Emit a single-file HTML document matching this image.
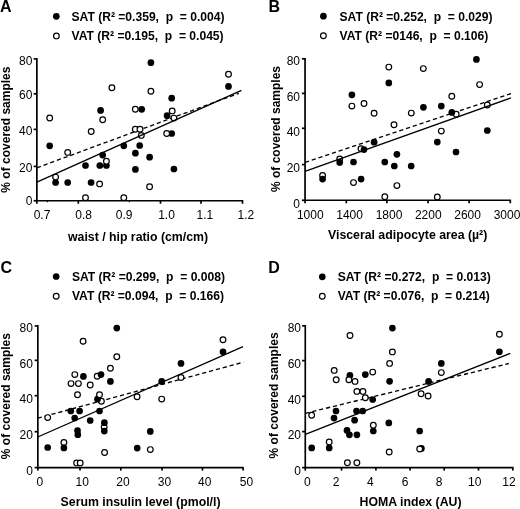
<!DOCTYPE html>
<html><head><meta charset="utf-8"><title>Figure</title>
<style>
html,body{margin:0;padding:0;background:#fff;}
body{width:520px;height:509px;overflow:hidden;}
svg{display:block;filter:grayscale(1);}
text{font-family:"Liberation Sans", sans-serif;fill:#000;}
.b12{font-size:12.1px;font-weight:bold;white-space:pre;}
.n12{font-size:12px;}
.lab{font-size:16px;font-weight:bold;}
.tt{font-size:12.3px;font-weight:bold;}
.yt{font-size:12px;font-weight:bold;}
</style></head><body>
<svg width="520" height="509" viewBox="0 0 520 509">
<rect width="520" height="509" fill="#fff"/>
<g id="pA">
<line x1="36.9" y1="167.8" x2="238.8" y2="93.3" stroke="#000" stroke-width="1.35" stroke-dasharray="4.2 2.9"/>
<line x1="36.86" y1="58.1" x2="36.86" y2="201.55" stroke="#000" stroke-width="1.7"/>
<line x1="36" y1="200.74" x2="243.2" y2="200.74" stroke="#000" stroke-width="1.7"/>
<line x1="33.66" y1="58.9" x2="36.86" y2="58.9" stroke="#000" stroke-width="1.7"/>
<line x1="33.66" y1="93.8" x2="36.86" y2="93.8" stroke="#000" stroke-width="1.7"/>
<line x1="33.66" y1="129.4" x2="36.86" y2="129.4" stroke="#000" stroke-width="1.7"/>
<line x1="33.66" y1="166.4" x2="36.86" y2="166.4" stroke="#000" stroke-width="1.7"/>
<line x1="33.66" y1="200.74" x2="36.86" y2="200.74" stroke="#000" stroke-width="1.7"/>
<line x1="36.86" y1="200.74" x2="36.86" y2="203.74" stroke="#000" stroke-width="1.7"/>
<line x1="78.3" y1="200.74" x2="78.3" y2="203.74" stroke="#000" stroke-width="1.7"/>
<line x1="160.5" y1="200.74" x2="160.5" y2="203.74" stroke="#000" stroke-width="1.7"/>
<line x1="201" y1="200.74" x2="201" y2="203.74" stroke="#000" stroke-width="1.7"/>
<line x1="242.5" y1="200.74" x2="242.5" y2="203.74" stroke="#000" stroke-width="1.7"/>
<line x1="47.3" y1="200.74" x2="47.3" y2="202.34" stroke="#000" stroke-width="1.1"/>
<line x1="129.3" y1="200.74" x2="129.3" y2="202.34" stroke="#000" stroke-width="1.1"/>
<circle cx="150.9" cy="62.7" r="3.35" fill="#000"/>
<circle cx="228.5" cy="86.4" r="3.35" fill="#000"/>
<circle cx="171.7" cy="98.2" r="3.35" fill="#000"/>
<circle cx="100.6" cy="110.4" r="3.35" fill="#000"/>
<circle cx="141.7" cy="109.3" r="3.35" fill="#000"/>
<circle cx="167.1" cy="115.7" r="3.35" fill="#000"/>
<circle cx="49.7" cy="145.8" r="3.35" fill="#000"/>
<circle cx="123.8" cy="145.8" r="3.35" fill="#000"/>
<circle cx="139.7" cy="145.5" r="3.35" fill="#000"/>
<circle cx="102.7" cy="155.1" r="3.35" fill="#000"/>
<circle cx="135.4" cy="153.2" r="3.35" fill="#000"/>
<circle cx="149.6" cy="157.2" r="3.35" fill="#000"/>
<circle cx="85.5" cy="165.5" r="3.35" fill="#000"/>
<circle cx="99.8" cy="165.5" r="3.35" fill="#000"/>
<circle cx="106.4" cy="165.5" r="3.35" fill="#000"/>
<circle cx="135.4" cy="169.4" r="3.35" fill="#000"/>
<circle cx="173.9" cy="169" r="3.35" fill="#000"/>
<circle cx="55.6" cy="182.5" r="3.35" fill="#000"/>
<circle cx="67.7" cy="182.5" r="3.35" fill="#000"/>
<circle cx="91.1" cy="182.5" r="3.35" fill="#000"/>
<circle cx="171.7" cy="133.5" r="3.35" fill="#000"/>
<circle cx="49.7" cy="118" r="2.85" fill="#fff" stroke="#000" stroke-width="1.2"/>
<circle cx="111.9" cy="87.7" r="2.85" fill="#fff" stroke="#000" stroke-width="1.2"/>
<circle cx="102.7" cy="119.7" r="2.85" fill="#fff" stroke="#000" stroke-width="1.2"/>
<circle cx="135.3" cy="109.3" r="2.85" fill="#fff" stroke="#000" stroke-width="1.2"/>
<circle cx="150.9" cy="91.2" r="2.85" fill="#fff" stroke="#000" stroke-width="1.2"/>
<circle cx="228.5" cy="74.3" r="2.85" fill="#fff" stroke="#000" stroke-width="1.2"/>
<circle cx="172.2" cy="110.9" r="2.85" fill="#fff" stroke="#000" stroke-width="1.2"/>
<circle cx="173.9" cy="118.1" r="2.85" fill="#fff" stroke="#000" stroke-width="1.2"/>
<circle cx="91.2" cy="131.5" r="2.85" fill="#fff" stroke="#000" stroke-width="1.2"/>
<circle cx="135.3" cy="129.2" r="2.85" fill="#fff" stroke="#000" stroke-width="1.2"/>
<circle cx="140" cy="129.2" r="2.85" fill="#fff" stroke="#000" stroke-width="1.2"/>
<circle cx="141.3" cy="135.4" r="2.85" fill="#fff" stroke="#000" stroke-width="1.2"/>
<circle cx="166.7" cy="133.5" r="2.85" fill="#fff" stroke="#000" stroke-width="1.2"/>
<circle cx="67.7" cy="152.4" r="2.85" fill="#fff" stroke="#000" stroke-width="1.2"/>
<circle cx="106.4" cy="161.2" r="2.85" fill="#fff" stroke="#000" stroke-width="1.2"/>
<circle cx="55.6" cy="177.1" r="2.85" fill="#fff" stroke="#000" stroke-width="1.2"/>
<circle cx="99.6" cy="183.9" r="2.85" fill="#fff" stroke="#000" stroke-width="1.2"/>
<circle cx="85.5" cy="197.7" r="2.85" fill="#fff" stroke="#000" stroke-width="1.2"/>
<circle cx="123.8" cy="197.7" r="2.85" fill="#fff" stroke="#000" stroke-width="1.2"/>
<circle cx="149.6" cy="186.8" r="2.85" fill="#fff" stroke="#000" stroke-width="1.2"/>
<line x1="36.9" y1="182.2" x2="241.4" y2="90.4" stroke="#000" stroke-width="1.35"/>
<circle cx="56.3" cy="16.3" r="3.35" fill="#000"/>
<circle cx="56.4" cy="35.9" r="2.85" fill="#fff" stroke="#000" stroke-width="1.2"/>
<text x="71.5" y="20.9" class="b12">SAT (R² =0.359,  p  = 0.004)</text>
<text x="71.5" y="40.3" class="b12">VAT (R² =0.195,  p  = 0.045)</text>
<text x="0" y="11.6" class="lab">A</text>
<text x="32.4" y="64.8" class="n12" text-anchor="end">80</text>
<text x="32.4" y="98.9" class="n12" text-anchor="end">60</text>
<text x="32.4" y="134.8" class="n12" text-anchor="end">40</text>
<text x="32.4" y="171.9" class="n12" text-anchor="end">20</text>
<text x="32.4" y="205.05" class="n12" text-anchor="end">0</text>
<text x="42" y="218.6" class="n12" text-anchor="middle">0.7</text>
<text x="83.6" y="218.6" class="n12" text-anchor="middle">0.8</text>
<text x="124.2" y="218.6" class="n12" text-anchor="middle">0.9</text>
<text x="166.5" y="218.6" class="n12" text-anchor="middle">1.0</text>
<text x="204.9" y="218.6" class="n12" text-anchor="middle">1.1</text>
<text x="245.8" y="218.6" class="n12" text-anchor="middle">1.2</text>
<text x="68" y="240.6" class="tt">waist / hip ratio (cm/cm)</text>
<text transform="translate(9.9,129.6) rotate(-90)" x="0" y="0" class="yt" text-anchor="middle">% of covered samples</text>
</g>
<g id="pB">
<line x1="305" y1="162.4" x2="511.4" y2="93.4" stroke="#000" stroke-width="1.35" stroke-dasharray="4.2 2.9"/>
<line x1="305.05" y1="57.9" x2="305.05" y2="201.1" stroke="#000" stroke-width="1.7"/>
<line x1="304.2" y1="200.27" x2="511" y2="200.27" stroke="#000" stroke-width="1.7"/>
<line x1="301.85" y1="58.8" x2="305.05" y2="58.8" stroke="#000" stroke-width="1.7"/>
<line x1="301.85" y1="93.4" x2="305.05" y2="93.4" stroke="#000" stroke-width="1.7"/>
<line x1="301.85" y1="128.3" x2="305.05" y2="128.3" stroke="#000" stroke-width="1.7"/>
<line x1="301.85" y1="164.6" x2="305.05" y2="164.6" stroke="#000" stroke-width="1.7"/>
<line x1="301.85" y1="200.27" x2="305.05" y2="200.27" stroke="#000" stroke-width="1.7"/>
<line x1="305.05" y1="200.27" x2="305.05" y2="203.27" stroke="#000" stroke-width="1.7"/>
<line x1="346.3" y1="200.27" x2="346.3" y2="203.27" stroke="#000" stroke-width="1.7"/>
<line x1="386.9" y1="200.27" x2="386.9" y2="203.27" stroke="#000" stroke-width="1.7"/>
<line x1="428.1" y1="200.27" x2="428.1" y2="203.27" stroke="#000" stroke-width="1.7"/>
<line x1="469.1" y1="200.27" x2="469.1" y2="203.27" stroke="#000" stroke-width="1.7"/>
<line x1="510.3" y1="200.27" x2="510.3" y2="203.27" stroke="#000" stroke-width="1.7"/>
<circle cx="388.8" cy="67.1" r="2.85" fill="#fff" stroke="#000" stroke-width="1.2"/>
<circle cx="351.9" cy="106.1" r="2.85" fill="#fff" stroke="#000" stroke-width="1.2"/>
<circle cx="364" cy="103.5" r="2.85" fill="#fff" stroke="#000" stroke-width="1.2"/>
<circle cx="374.1" cy="113.2" r="2.85" fill="#fff" stroke="#000" stroke-width="1.2"/>
<circle cx="394" cy="124.7" r="2.85" fill="#fff" stroke="#000" stroke-width="1.2"/>
<circle cx="423.3" cy="68.6" r="2.85" fill="#fff" stroke="#000" stroke-width="1.2"/>
<circle cx="479.6" cy="84.6" r="2.85" fill="#fff" stroke="#000" stroke-width="1.2"/>
<circle cx="451.8" cy="96.2" r="2.85" fill="#fff" stroke="#000" stroke-width="1.2"/>
<circle cx="456.2" cy="114.2" r="2.85" fill="#fff" stroke="#000" stroke-width="1.2"/>
<circle cx="411.3" cy="113.1" r="2.85" fill="#fff" stroke="#000" stroke-width="1.2"/>
<circle cx="487.3" cy="105" r="2.85" fill="#fff" stroke="#000" stroke-width="1.2"/>
<circle cx="441.3" cy="131.1" r="2.85" fill="#fff" stroke="#000" stroke-width="1.2"/>
<circle cx="437.3" cy="196.9" r="2.85" fill="#fff" stroke="#000" stroke-width="1.2"/>
<circle cx="361" cy="148.8" r="2.85" fill="#fff" stroke="#000" stroke-width="1.2"/>
<circle cx="339.7" cy="158.9" r="2.85" fill="#fff" stroke="#000" stroke-width="1.2"/>
<circle cx="322.6" cy="175.5" r="2.85" fill="#fff" stroke="#000" stroke-width="1.2"/>
<circle cx="353.5" cy="182.6" r="2.85" fill="#fff" stroke="#000" stroke-width="1.2"/>
<circle cx="396.9" cy="185.6" r="2.85" fill="#fff" stroke="#000" stroke-width="1.2"/>
<circle cx="384.8" cy="196.7" r="2.85" fill="#fff" stroke="#000" stroke-width="1.2"/>
<line x1="305" y1="171.4" x2="511" y2="97.9" stroke="#000" stroke-width="1.35"/>
<circle cx="388.8" cy="82.9" r="3.35" fill="#000"/>
<circle cx="351.9" cy="94.8" r="3.35" fill="#000"/>
<circle cx="476.4" cy="59.4" r="3.35" fill="#000"/>
<circle cx="423.4" cy="107.3" r="3.35" fill="#000"/>
<circle cx="441.3" cy="106.1" r="3.35" fill="#000"/>
<circle cx="451.8" cy="112.4" r="3.35" fill="#000"/>
<circle cx="487.3" cy="130.5" r="3.35" fill="#000"/>
<circle cx="437.3" cy="142.1" r="3.35" fill="#000"/>
<circle cx="456" cy="152" r="3.35" fill="#000"/>
<circle cx="411.2" cy="166" r="3.35" fill="#000"/>
<circle cx="374.1" cy="142.2" r="3.35" fill="#000"/>
<circle cx="364" cy="149.6" r="3.35" fill="#000"/>
<circle cx="339.7" cy="162.4" r="3.35" fill="#000"/>
<circle cx="353.5" cy="162" r="3.35" fill="#000"/>
<circle cx="384.8" cy="162" r="3.35" fill="#000"/>
<circle cx="396.9" cy="154.3" r="3.35" fill="#000"/>
<circle cx="394.3" cy="166" r="3.35" fill="#000"/>
<circle cx="322.6" cy="179.1" r="3.35" fill="#000"/>
<circle cx="361.1" cy="179.1" r="3.35" fill="#000"/>
<circle cx="323.4" cy="16.2" r="3.35" fill="#000"/>
<circle cx="323.4" cy="35.8" r="2.85" fill="#fff" stroke="#000" stroke-width="1.2"/>
<text x="339.5" y="20.7" class="b12">SAT (R² =0.252,  p  = 0.029)</text>
<text x="339.5" y="40.3" class="b12">VAT (R² =0146,  p  = 0.106)</text>
<text x="268.5" y="12.4" class="lab">B</text>
<text x="300" y="64.8" class="n12" text-anchor="end">80</text>
<text x="300" y="100.9" class="n12" text-anchor="end">60</text>
<text x="300" y="136.2" class="n12" text-anchor="end">40</text>
<text x="300" y="171.9" class="n12" text-anchor="end">20</text>
<text x="300" y="207.75" class="n12" text-anchor="end">0</text>
<text x="310.3" y="219.4" class="n12" text-anchor="middle">1000</text>
<text x="349.6" y="219.4" class="n12" text-anchor="middle">1400</text>
<text x="389" y="219.4" class="n12" text-anchor="middle">1800</text>
<text x="428.3" y="219.4" class="n12" text-anchor="middle">2200</text>
<text x="467.6" y="219.4" class="n12" text-anchor="middle">2600</text>
<text x="507" y="219.4" class="n12" text-anchor="middle">3000</text>
<text x="328" y="238.6" class="tt">Visceral adipocyte area (µ²)</text>
<text transform="translate(279.5,129) rotate(-90)" x="0" y="0" class="yt" text-anchor="middle">% of covered samples</text>
</g>
<g id="pC">
<line x1="37.75" y1="418.2" x2="243.4" y2="362.2" stroke="#000" stroke-width="1.35" stroke-dasharray="4.2 2.9"/>
<line x1="37.83" y1="325" x2="37.83" y2="468.4" stroke="#000" stroke-width="1.7"/>
<line x1="37" y1="467.6" x2="243.6" y2="467.6" stroke="#000" stroke-width="1.7"/>
<line x1="34.63" y1="326" x2="37.83" y2="326" stroke="#000" stroke-width="1.7"/>
<line x1="34.63" y1="360.3" x2="37.83" y2="360.3" stroke="#000" stroke-width="1.7"/>
<line x1="34.63" y1="395.7" x2="37.83" y2="395.7" stroke="#000" stroke-width="1.7"/>
<line x1="34.63" y1="431.7" x2="37.83" y2="431.7" stroke="#000" stroke-width="1.7"/>
<line x1="34.63" y1="467.6" x2="37.83" y2="467.6" stroke="#000" stroke-width="1.7"/>
<line x1="37.83" y1="467.6" x2="37.83" y2="470.6" stroke="#000" stroke-width="1.7"/>
<line x1="80" y1="467.6" x2="80" y2="470.6" stroke="#000" stroke-width="1.7"/>
<line x1="120.8" y1="467.6" x2="120.8" y2="470.6" stroke="#000" stroke-width="1.7"/>
<line x1="162.1" y1="467.6" x2="162.1" y2="470.6" stroke="#000" stroke-width="1.7"/>
<line x1="202.5" y1="467.6" x2="202.5" y2="470.6" stroke="#000" stroke-width="1.7"/>
<line x1="243.1" y1="467.6" x2="243.1" y2="470.6" stroke="#000" stroke-width="1.7"/>
<circle cx="83.1" cy="341.2" r="2.85" fill="#fff" stroke="#000" stroke-width="1.2"/>
<circle cx="116.8" cy="356.8" r="2.85" fill="#fff" stroke="#000" stroke-width="1.2"/>
<circle cx="110.4" cy="368.2" r="2.85" fill="#fff" stroke="#000" stroke-width="1.2"/>
<circle cx="74.8" cy="374.6" r="2.85" fill="#fff" stroke="#000" stroke-width="1.2"/>
<circle cx="97.2" cy="376.2" r="2.85" fill="#fff" stroke="#000" stroke-width="1.2"/>
<circle cx="71" cy="383.6" r="2.85" fill="#fff" stroke="#000" stroke-width="1.2"/>
<circle cx="78.4" cy="383.6" r="2.85" fill="#fff" stroke="#000" stroke-width="1.2"/>
<circle cx="90.2" cy="385" r="2.85" fill="#fff" stroke="#000" stroke-width="1.2"/>
<circle cx="77.5" cy="394.7" r="2.85" fill="#fff" stroke="#000" stroke-width="1.2"/>
<circle cx="101.4" cy="401.3" r="2.85" fill="#fff" stroke="#000" stroke-width="1.2"/>
<circle cx="137.1" cy="396.8" r="2.85" fill="#fff" stroke="#000" stroke-width="1.2"/>
<circle cx="47.7" cy="417.6" r="2.85" fill="#fff" stroke="#000" stroke-width="1.2"/>
<circle cx="104.2" cy="427.1" r="2.85" fill="#fff" stroke="#000" stroke-width="1.2"/>
<circle cx="63.9" cy="442.5" r="2.85" fill="#fff" stroke="#000" stroke-width="1.2"/>
<circle cx="104.6" cy="452.5" r="2.85" fill="#fff" stroke="#000" stroke-width="1.2"/>
<circle cx="76.6" cy="462.9" r="2.85" fill="#fff" stroke="#000" stroke-width="1.2"/>
<circle cx="80.2" cy="462.9" r="2.85" fill="#fff" stroke="#000" stroke-width="1.2"/>
<circle cx="223" cy="339.7" r="2.85" fill="#fff" stroke="#000" stroke-width="1.2"/>
<circle cx="181" cy="377.4" r="2.85" fill="#fff" stroke="#000" stroke-width="1.2"/>
<circle cx="161.7" cy="399.1" r="2.85" fill="#fff" stroke="#000" stroke-width="1.2"/>
<circle cx="150.3" cy="449.6" r="2.85" fill="#fff" stroke="#000" stroke-width="1.2"/>
<line x1="37.75" y1="437" x2="243" y2="346.7" stroke="#000" stroke-width="1.35"/>
<circle cx="116.8" cy="328.1" r="3.35" fill="#000"/>
<circle cx="83.4" cy="376.4" r="3.35" fill="#000"/>
<circle cx="101" cy="374.6" r="3.35" fill="#000"/>
<circle cx="110.4" cy="381.4" r="3.35" fill="#000"/>
<circle cx="97.5" cy="399.2" r="3.35" fill="#000"/>
<circle cx="70.8" cy="411" r="3.35" fill="#000"/>
<circle cx="79.6" cy="411" r="3.35" fill="#000"/>
<circle cx="99.5" cy="411" r="3.35" fill="#000"/>
<circle cx="74.7" cy="418" r="3.35" fill="#000"/>
<circle cx="90.2" cy="420.5" r="3.35" fill="#000"/>
<circle cx="104.4" cy="422.7" r="3.35" fill="#000"/>
<circle cx="104.3" cy="431.1" r="3.35" fill="#000"/>
<circle cx="77.5" cy="430.5" r="3.35" fill="#000"/>
<circle cx="77.8" cy="434.7" r="3.35" fill="#000"/>
<circle cx="47.7" cy="447.5" r="3.35" fill="#000"/>
<circle cx="63.9" cy="447.9" r="3.35" fill="#000"/>
<circle cx="137.2" cy="448.1" r="3.35" fill="#000"/>
<circle cx="150.3" cy="431.4" r="3.35" fill="#000"/>
<circle cx="223" cy="351.8" r="3.35" fill="#000"/>
<circle cx="181" cy="363.4" r="3.35" fill="#000"/>
<circle cx="161.7" cy="381.4" r="3.35" fill="#000"/>
<circle cx="99.5" cy="394.7" r="2.85" fill="#fff" stroke="#000" stroke-width="1.2"/>
<circle cx="56.2" cy="276.5" r="3.35" fill="#000"/>
<circle cx="56.2" cy="296.2" r="2.85" fill="#fff" stroke="#000" stroke-width="1.2"/>
<text x="71.9" y="280.9" class="b12">SAT (R² =0.299,  p  = 0.008)</text>
<text x="71.9" y="300.2" class="b12">VAT (R² =0.094,  p  = 0.166)</text>
<text x="0.5" y="272.8" class="lab">C</text>
<text x="32.9" y="332.15" class="n12" text-anchor="end">80</text>
<text x="32.9" y="368.15" class="n12" text-anchor="end">60</text>
<text x="32.9" y="403.4" class="n12" text-anchor="end">40</text>
<text x="32.9" y="439.15" class="n12" text-anchor="end">20</text>
<text x="32.9" y="474.65" class="n12" text-anchor="end">0</text>
<text x="39.9" y="485.8" class="n12" text-anchor="middle">0</text>
<text x="82.2" y="485.8" class="n12" text-anchor="middle">10</text>
<text x="122.9" y="485.8" class="n12" text-anchor="middle">20</text>
<text x="164.4" y="485.8" class="n12" text-anchor="middle">30</text>
<text x="204.8" y="485.8" class="n12" text-anchor="middle">40</text>
<text x="246.5" y="485.8" class="n12" text-anchor="middle">50</text>
<text x="60.6" y="505.6" class="tt">Serum insulin level (pmol/l)</text>
<text transform="translate(10,396.1) rotate(-90)" x="0" y="0" class="yt" text-anchor="middle">% of covered samples</text>
</g>
<g id="pD">
<line x1="305.35" y1="413.3" x2="508.8" y2="363.5" stroke="#000" stroke-width="1.35" stroke-dasharray="4.2 2.9"/>
<line x1="305.27" y1="325.1" x2="305.27" y2="468.4" stroke="#000" stroke-width="1.7"/>
<line x1="304.45" y1="467.6" x2="513.5" y2="467.6" stroke="#000" stroke-width="1.7"/>
<line x1="302.07" y1="325.8" x2="305.27" y2="325.8" stroke="#000" stroke-width="1.7"/>
<line x1="302.07" y1="360.6" x2="305.27" y2="360.6" stroke="#000" stroke-width="1.7"/>
<line x1="302.07" y1="396.3" x2="305.27" y2="396.3" stroke="#000" stroke-width="1.7"/>
<line x1="302.07" y1="431.6" x2="305.27" y2="431.6" stroke="#000" stroke-width="1.7"/>
<line x1="302.07" y1="467.6" x2="305.27" y2="467.6" stroke="#000" stroke-width="1.7"/>
<line x1="305.27" y1="467.6" x2="305.27" y2="470.6" stroke="#000" stroke-width="1.7"/>
<line x1="341.5" y1="467.6" x2="341.5" y2="470.6" stroke="#000" stroke-width="1.7"/>
<line x1="375.9" y1="467.6" x2="375.9" y2="470.6" stroke="#000" stroke-width="1.7"/>
<line x1="410.1" y1="467.6" x2="410.1" y2="470.6" stroke="#000" stroke-width="1.7"/>
<line x1="444.2" y1="467.6" x2="444.2" y2="470.6" stroke="#000" stroke-width="1.7"/>
<line x1="478.5" y1="467.6" x2="478.5" y2="470.6" stroke="#000" stroke-width="1.7"/>
<line x1="512.8" y1="467.6" x2="512.8" y2="470.6" stroke="#000" stroke-width="1.7"/>
<circle cx="392.4" cy="328.1" r="3.35" fill="#000"/>
<circle cx="349.9" cy="375.4" r="3.35" fill="#000"/>
<circle cx="365.3" cy="374.6" r="3.35" fill="#000"/>
<circle cx="389.6" cy="381.3" r="3.35" fill="#000"/>
<circle cx="372.7" cy="399.5" r="3.35" fill="#000"/>
<circle cx="336" cy="411" r="3.35" fill="#000"/>
<circle cx="356.5" cy="411" r="3.35" fill="#000"/>
<circle cx="362.7" cy="411" r="3.35" fill="#000"/>
<circle cx="334" cy="418.1" r="3.35" fill="#000"/>
<circle cx="354.6" cy="420.2" r="3.35" fill="#000"/>
<circle cx="347" cy="430.4" r="3.35" fill="#000"/>
<circle cx="349.4" cy="434.8" r="3.35" fill="#000"/>
<circle cx="356.9" cy="434.8" r="3.35" fill="#000"/>
<circle cx="373.3" cy="431" r="3.35" fill="#000"/>
<circle cx="388.8" cy="422.9" r="3.35" fill="#000"/>
<circle cx="311.7" cy="447.9" r="3.35" fill="#000"/>
<circle cx="329.2" cy="447.9" r="3.35" fill="#000"/>
<circle cx="499.4" cy="351.8" r="3.35" fill="#000"/>
<circle cx="441.3" cy="363.4" r="3.35" fill="#000"/>
<circle cx="428.6" cy="381.4" r="3.35" fill="#000"/>
<circle cx="419.7" cy="431" r="3.35" fill="#000"/>
<circle cx="421.4" cy="448.4" r="3.35" fill="#000"/>
<circle cx="350" cy="335.5" r="2.85" fill="#fff" stroke="#000" stroke-width="1.2"/>
<circle cx="392.4" cy="351.9" r="2.85" fill="#fff" stroke="#000" stroke-width="1.2"/>
<circle cx="389.6" cy="363.4" r="2.85" fill="#fff" stroke="#000" stroke-width="1.2"/>
<circle cx="334.2" cy="370.4" r="2.85" fill="#fff" stroke="#000" stroke-width="1.2"/>
<circle cx="372.7" cy="372.1" r="2.85" fill="#fff" stroke="#000" stroke-width="1.2"/>
<circle cx="336.2" cy="379.8" r="2.85" fill="#fff" stroke="#000" stroke-width="1.2"/>
<circle cx="348.9" cy="379.8" r="2.85" fill="#fff" stroke="#000" stroke-width="1.2"/>
<circle cx="355" cy="381.4" r="2.85" fill="#fff" stroke="#000" stroke-width="1.2"/>
<circle cx="356.9" cy="391.4" r="2.85" fill="#fff" stroke="#000" stroke-width="1.2"/>
<circle cx="362.9" cy="391.4" r="2.85" fill="#fff" stroke="#000" stroke-width="1.2"/>
<circle cx="365.3" cy="397.7" r="2.85" fill="#fff" stroke="#000" stroke-width="1.2"/>
<circle cx="311.7" cy="415.2" r="2.85" fill="#fff" stroke="#000" stroke-width="1.2"/>
<circle cx="373.3" cy="425.3" r="2.85" fill="#fff" stroke="#000" stroke-width="1.2"/>
<circle cx="329.2" cy="441.9" r="2.85" fill="#fff" stroke="#000" stroke-width="1.2"/>
<circle cx="389.2" cy="452" r="2.85" fill="#fff" stroke="#000" stroke-width="1.2"/>
<circle cx="347.4" cy="462.7" r="2.85" fill="#fff" stroke="#000" stroke-width="1.2"/>
<circle cx="356.9" cy="462.7" r="2.85" fill="#fff" stroke="#000" stroke-width="1.2"/>
<circle cx="499.4" cy="334.3" r="2.85" fill="#fff" stroke="#000" stroke-width="1.2"/>
<circle cx="441.3" cy="372.6" r="2.85" fill="#fff" stroke="#000" stroke-width="1.2"/>
<circle cx="421.1" cy="393.8" r="2.85" fill="#fff" stroke="#000" stroke-width="1.2"/>
<circle cx="428.1" cy="396" r="2.85" fill="#fff" stroke="#000" stroke-width="1.2"/>
<line x1="305.35" y1="434.4" x2="510.3" y2="353.3" stroke="#000" stroke-width="1.35"/>
<circle cx="419.7" cy="449" r="2.85" fill="#fff" stroke="#000" stroke-width="1.2"/>
<circle cx="322.3" cy="276.8" r="3.35" fill="#000"/>
<circle cx="322.3" cy="296.2" r="2.85" fill="#fff" stroke="#000" stroke-width="1.2"/>
<text x="337.7" y="280.9" class="b12">SAT (R² =0.272,  p  = 0.013)</text>
<text x="337.7" y="300.2" class="b12">VAT (R² =0.076,  p  = 0.214)</text>
<text x="268.2" y="272.6" class="lab">D</text>
<text x="301" y="332.15" class="n12" text-anchor="end">80</text>
<text x="301" y="368.35" class="n12" text-anchor="end">60</text>
<text x="301" y="403.55" class="n12" text-anchor="end">40</text>
<text x="301" y="439.3" class="n12" text-anchor="end">20</text>
<text x="301" y="474.9" class="n12" text-anchor="end">0</text>
<text x="307.4" y="485.7" class="n12" text-anchor="middle">0</text>
<text x="336" y="485.7" class="n12" text-anchor="middle">2</text>
<text x="370.4" y="485.7" class="n12" text-anchor="middle">4</text>
<text x="405" y="485.7" class="n12" text-anchor="middle">6</text>
<text x="439.2" y="485.7" class="n12" text-anchor="middle">8</text>
<text x="474.8" y="485.7" class="n12" text-anchor="middle">10</text>
<text x="509" y="485.7" class="n12" text-anchor="middle">12</text>
<text x="359.5" y="505.9" class="tt">HOMA index (AU)</text>
<text transform="translate(277.9,395.4) rotate(-90)" x="0" y="0" class="yt" text-anchor="middle">% of covered samples</text>
</g>
</svg>
</body></html>
